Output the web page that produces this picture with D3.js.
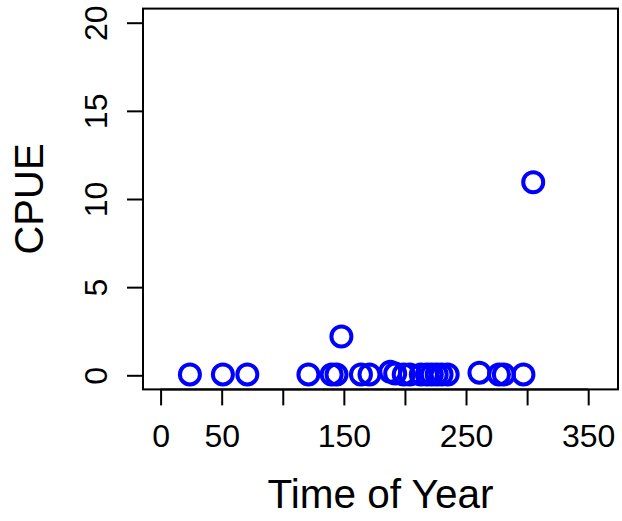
<!DOCTYPE html>
<html>
<head>
<meta charset="utf-8">
<script src="https://cdn.jsdelivr.net/npm/d3@7"></script>
<style>
  html, body { margin: 0; padding: 0; background: #fff; }
  svg { display: block; }
  text { font-family: "Liberation Sans", Arial, Helvetica, sans-serif; fill: #000; }
</style>
</head>
<body>
<svg id="chart" width="622" height="521"></svg>
<script>
// Day of year for each sample
const dayOfYear = [24, 51, 71, 121, 140, 144, 148, 164, 171, 188, 192, 199, 204,
                   213, 218, 222, 226, 230, 235, 261, 277, 281, 297, 305];
// Catch per unit effort for each sample
const cpue = [0.05, 0.05, 0.05, 0.05, 0.05, 0.05, 2.2, 0.05, 0.05, 0.2, 0.1, 0.05, 0.05,
              0.05, 0.05, 0.05, 0.05, 0.05, 0.05, 0.15, 0.05, 0.05, 0.05, 10.95];

const xTicks = [0, 50, 100, 150, 200, 250, 300, 350];
const xTickLabels = ["0", "50", "", "150", "", "250", "", "350"];
const yTicks = [0, 5, 10, 15, 20];

const svg = d3.select("#chart");

const plotLeft = 143, plotRight = 618, plotTop = 8.6, plotBottom = 389.4;

// Axis limits 0..360 and 0..20, each padded by 4%
const x = d3.scaleLinear().domain([-14.4, 374.4]).range([plotLeft, plotRight]);
const y = d3.scaleLinear().domain([-0.8, 20.8]).range([plotBottom, plotTop]);

// Plot frame
svg.append("rect")
  .attr("x", plotLeft).attr("y", plotTop)
  .attr("width", plotRight - plotLeft).attr("height", plotBottom - plotTop)
  .attr("fill", "none").attr("stroke", "#000").attr("stroke-width", 2);

// X axis
const xAxis = svg.append("g")
  .attr("transform", `translate(0,${plotBottom})`)
  .call(d3.axisBottom(x).tickValues(xTicks).tickSize(16)
        .tickFormat((d, i) => xTickLabels[i]));
xAxis.select(".domain").attr("d", `M${x(0)},0H${x(350)}`).attr("stroke-width", 2);
xAxis.selectAll(".tick line").attr("stroke-width", 2);
xAxis.selectAll(".tick text")
  .attr("y", 57.5).attr("dy", 0)
  .style("font-size", "32px");

// Y axis
const yAxis = svg.append("g")
  .attr("transform", `translate(${plotLeft},0)`)
  .call(d3.axisLeft(y).tickValues(yTicks).tickSize(16));
yAxis.select(".domain").attr("d", `M0,${y(0)}V${y(20)}`).attr("stroke-width", 2);
yAxis.selectAll(".tick line").attr("stroke-width", 2);
yAxis.selectAll(".tick text")
  .attr("x", 0).attr("y", 0).attr("dy", 0)
  .attr("text-anchor", "middle")
  .attr("transform", `translate(${107 - plotLeft},0) rotate(-90)`)
  .style("font-size", "32px");

svg.selectAll(".tick text").style("font-family", "'Liberation Sans', Arial, sans-serif");

// Axis titles
svg.append("text")
  .attr("x", (plotLeft + plotRight) / 2).attr("y", 508)
  .attr("text-anchor", "middle")
  .style("font-size", "40.5px")
  .text("Time of Year");

svg.append("text")
  .attr("transform", `translate(43,${(plotTop + plotBottom) / 2}) rotate(-90)`)
  .attr("text-anchor", "middle")
  .style("font-size", "40px")
  .text("CPUE");

// Sample points
svg.append("g")
  .selectAll("circle")
  .data(dayOfYear.map((d, i) => [d, cpue[i]]))
  .join("circle")
  .attr("cx", d => x(d[0]))
  .attr("cy", d => y(d[1]))
  .attr("r", 10)
  .attr("fill", "none")
  .attr("stroke", "#0000ff")
  .attr("stroke-width", 4);
</script>
</body>
</html>
